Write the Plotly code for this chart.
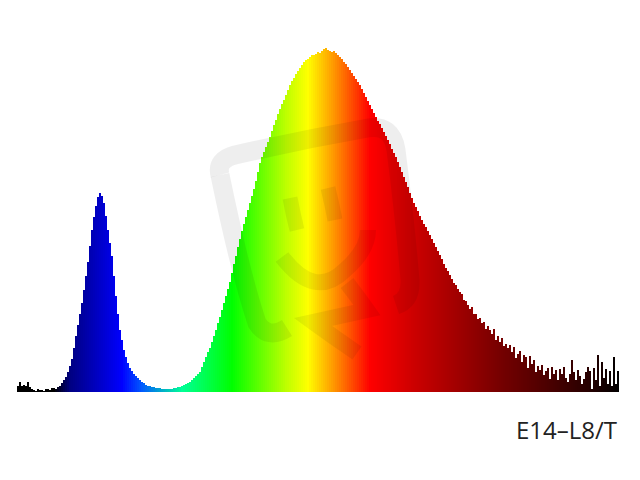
import numpy as np
import plotly.graph_objects as go

# Relative intensity, one sample every 2 pixels across the spectrum
noise_left = [6,10,6,7,6,10,5,3,2,1,3,2,2,1,3,3,2,4,4,3,5]
blue_peak = [6,9,12,15,20,26,33,44,56,67,78,89,102,116,130,146,162,175,186,195,199,196,189,176,162,149,136,116,96,78,62,52,42,35,29,24,21,18,16,14,12,10,9,7,6,6,5,5,4,4,4,3,3,3,3,3,3,4,4,5,5,6,7,8,9,10,12,14,16,18]
rise = [20,25,30,35,40,44,50,56,62,69,75,82,89,96,103,110,119,128,136,145,153,161,168,175,182,189,196,203,211,220,229,235,240,245,250,255,261,267,272,278,283,288,292,297,302,307,311,314,318,321,324,327,330,332,333,335,337,337,338,340,339,341,343,344]
fall = [342,341,340,341,339,337,335,333,330,328,325,322,319,316,313,310,307,303,299,295,291,287,283,279,275,271,268,264,260,256,252,248,243,239,235,230,225,220,215,210,205,199,194,189,185,181,176,172,168,165,161,157,153,149,145,141,137,133,128,124,121,117,113,109,107,103,100,98,92,91,87,83,85,78,78,73,74,69,70,63,66,62,58,63,52,56,50,54,46,48,44,47,40,45,34,38,41,30,37,35,24,36,28,32,20,26,22,27,17,21,24,13,25,18,22,12,23,18,25,14,10,18,32,20,12,22,16,8,13,20,25,21,3,24,12,37,6,30,14,23,8,21,6,35,8,21]
values = noise_left + blue_peak + rise + fall

# Spectrum colours, keyed by sample index
stop_idx = [0, 18, 26, 52, 62, 82, 107, 134, 145, 158, 176, 200, 240, 285, 301]
stop_r = [0, 0, 0, 0, 0, 0, 0, 190, 255, 255, 255, 200, 120, 40, 0]
stop_g = [0, 0, 0, 0, 90, 255, 255, 255, 255, 150, 0, 0, 0, 0, 0]
stop_b = [0, 0, 130, 255, 255, 150, 0, 0, 0, 0, 0, 0, 0, 0, 0]
label = "E14\u2013L8/T"

idx = np.arange(len(values))
colors = ["rgb(%d,%d,%d)" % (np.interp(i, stop_idx, stop_r), np.interp(i, stop_idx, stop_g), np.interp(i, stop_idx, stop_b)) for i in idx]

fig = go.Figure(go.Bar(x=idx, y=values, marker=dict(color=colors, line=dict(width=0)), width=1.0, hoverinfo="skip"))

# The page adds an 8 px body margin, so the figure is 8 px smaller on each side
PAGE = 8
W, H = 640 - PAGE, 480 - PAGE
LEFT, BASE = 17, 392
def px(x):
    return (x - LEFT) / 2 - 0.5
def py(y):
    return BASE - y

def stroke(points, width):
    d = "M %g %g" % (px(points[0][0]), py(points[0][1]))
    rest = points[1:]
    for i in range(0, len(rest), 2):
        d += " Q %g %g %g %g" % (px(rest[i][0]), py(rest[i][1]), px(rest[i+1][0]), py(rest[i+1][1]))
    return dict(type="path", path=d, xref="x", yref="y", layer="above",
                line=dict(color="rgba(0,0,0,0.065)", width=width))

shapes = [
    stroke([(220,175),(216,160),(235,155),(300,140),(368,128),(392,124),(396,150),(405,220),(410,280),(411,300),(396,305)], 19),
    stroke([(220,175),(240,272),(257,323),(268,340),(287,328)], 19),
    stroke([(290,198),(293,214),(297,230)], 15),
    stroke([(328,188),(332,204),(335,220)], 15),
    stroke([(282,257),(315,300),(345,270),(368,250),(368,230)], 16),
    stroke([(347,283),(357,296),(367,310),(340,316),(313,322),(335,338),(357,353)], 16),
]

fig.update_layout(
    width=W, height=H, autosize=False,
    margin=dict(l=LEFT - PAGE, r=W - (LEFT - PAGE) - 602, t=0, b=H - (BASE - PAGE), pad=0),
    paper_bgcolor="white", plot_bgcolor="white",
    bargap=0, showlegend=False, shapes=shapes,
    xaxis=dict(range=[-0.5, 300.5], visible=False, fixedrange=True),
    yaxis=dict(range=[0, BASE - PAGE], visible=False, fixedrange=True),
    annotations=[dict(text=label, xref="paper", yref="paper", x=1.0, y=-37/(BASE - PAGE),
                      xanchor="right", yanchor="middle", showarrow=False,
                      font=dict(family="Open Sans", size=24, color="#222222"))],
)
fig.write_html("out.html", config={"displayModeBar": False})
